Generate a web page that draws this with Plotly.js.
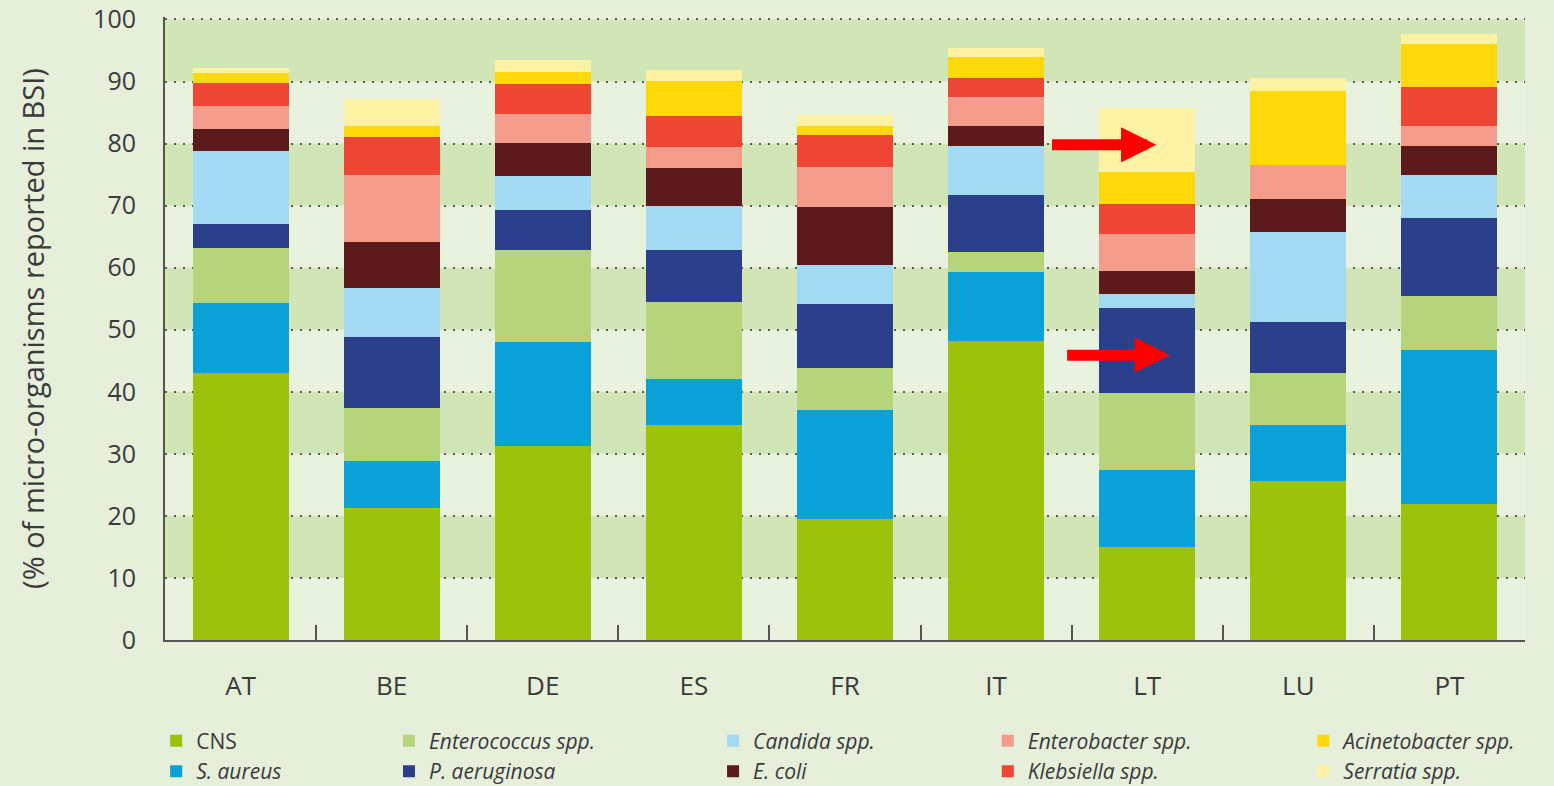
<!DOCTYPE html>
<html>
<head>
<meta charset="utf-8">
<script src="https://cdn.plot.ly/plotly-3.0.1.min.js"></script>
<style>
  html, body { margin: 0; padding: 0; background: #e5efda; }
  #chart { width: 1554px; height: 786px; }
</style>
</head>
<body>
<div id="chart"></div>
<script>
// Countries along the x axis
const countries = ['AT', 'BE', 'DE', 'ES', 'FR', 'IT', 'LT', 'LU', 'PT'];

// Share of micro-organisms reported in BSI (%), stacked bottom to top
const cns           = [43.1, 21.3, 31.2, 34.6, 19.5, 48.2, 15.0, 25.6, 21.9];
const sAureus       = [11.2,  7.5, 16.8,  7.5, 17.5, 11.1, 12.4,  9.1, 24.9];
const enterococcus  = [ 8.9,  8.6, 14.9, 12.4,  6.8,  3.3, 12.4,  8.3,  8.7];
const pAeruginosa   = [ 3.9, 11.4,  6.4,  8.4, 10.4,  9.1, 13.7,  8.2, 12.5];
const candida       = [11.7,  7.9,  5.5,  7.0,  6.2,  7.9,  2.3, 14.6,  7.0];
const eColi         = [ 3.6,  7.4,  5.3,  6.1,  9.4,  3.2,  3.7,  5.3,  4.6];
const enterobacter  = [ 3.7, 10.9,  4.6,  3.5,  6.5,  4.7,  5.9,  5.5,  3.2];
const klebsiella    = [ 3.7,  6.1,  4.9,  5.0,  5.1,  3.0,  4.8,  0.0,  6.3];
const acinetobacter = [ 1.6,  1.8,  1.9,  5.6,  1.5,  3.4,  5.3, 11.9,  7.0];
const serratia      = [ 0.8,  4.3,  2.0,  1.7,  1.7,  1.5, 10.2,  2.1,  1.6];

// Legend labels
const seriesNames = [
  'CNS', '<i>S. aureus</i>', '<i>Enterococcus spp.</i>', '<i>P. aeruginosa</i>',
  '<i>Candida spp.</i>', '<i>E. coli</i>', '<i>Enterobacter spp.</i>',
  '<i>Klebsiella spp.</i>', '<i>Acinetobacter spp.</i>', '<i>Serratia spp.</i>'
];

const yTicks = [0, 10, 20, 30, 40, 50, 60, 70, 80, 90, 100];

const seriesValues = [cns, sAureus, enterococcus, pAeruginosa, candida,
                      eColi, enterobacter, klebsiella, acinetobacter, serratia];
const seriesColors = ['#9cc20b', '#0aa0d8', '#b5d47c', '#2b3f8b', '#a4d9f3',
                      '#5c1a1d', '#f39c8b', '#ee4634', '#fdd80a', '#fdf1a4'];
// Legend column for each series (two entries per column)
const legendIds = ['legend', 'legend', 'legend2', 'legend2', 'legend3',
                   'legend3', 'legend4', 'legend4', 'legend5', 'legend5'];

const traces = seriesValues.map((vals, i) => ({
  type: 'bar',
  x: countries,
  y: vals,
  name: seriesNames[i],
  marker: { color: seriesColors[i], line: { width: 0 } },
  legend: legendIds[i],
  legendgroup: 'g' + i,
  hoverinfo: 'skip'
}));

const textColor = '#3a3a3a';
const baseFont = 'Open Sans, Noto Sans, DejaVu Sans, sans-serif';

function legendAt(x) {
  return {
    x: x, xanchor: 'left', y: -0.1295, yanchor: 'top',
    orientation: 'v', traceorder: 'normal', tracegroupgap: 0,
    bgcolor: 'rgba(0,0,0,0)', borderwidth: 0,
    font: { family: baseFont, size: 21, color: textColor }
  };
}

// Alternating horizontal bands behind the grid
const bandShapes = [10, 30, 50, 70, 90].map(y0 => ({
  type: 'rect', xref: 'paper', yref: 'y', x0: 0, x1: 1, y0: y0, y1: y0 + 10,
  fillcolor: '#d1e5b7', line: { width: 0 }, layer: 'below'
}));

const layout = {
  width: 1554, height: 786,
  margin: { l: 165, r: 29, t: 17, b: 146, autoexpand: false },
  paper_bgcolor: '#e5efda',
  plot_bgcolor: '#e9f2de',
  barmode: 'stack',
  bargap: 0.365,
  showlegend: true,
  legend: legendAt(-0.0065),
  legend2: legendAt(0.1647),
  legend3: legendAt(0.403),
  legend4: legendAt(0.605),
  legend5: legendAt(0.837),
  xaxis: {
    type: 'category',
    tickson: 'boundaries',
    ticks: 'inside', ticklen: 15, tickwidth: 2, tickcolor: '#555',
    showline: true, linecolor: '#555', linewidth: 2,
    showgrid: false, zeroline: false,
    ticklabelstandoff: 22,
    tickfont: { family: baseFont, size: 26, color: textColor },
    fixedrange: true
  },
  yaxis: {
    range: [0, 100.4],
    tickvals: yTicks,
    ticktext: yTicks.map(String),
    ticks: '',
    showline: true, linecolor: '#555', linewidth: 2,
    showgrid: true, gridcolor: '#5a5a5a', gridwidth: 2, griddash: '2px,7px',
    zeroline: false,
    ticklabelstandoff: 22,
    tickfont: { family: baseFont, size: 25, color: textColor },
    title: {
      text: '(% of micro-organisms reported in BSI)',
      font: { family: baseFont, size: 29, color: textColor },
      standoff: 40
    },
    fixedrange: true
  },
  shapes: bandShapes,
  annotations: [
    { x: 6.06, y: 79.8, ax: 5.36, ay: 79.8, xref: 'x', yref: 'y', axref: 'x', ayref: 'y',
      text: '', showarrow: true, arrowhead: 2, arrowsize: 0.64, arrowwidth: 11, arrowcolor: '#ff0000' },
    { x: 6.15, y: 45.9, ax: 5.46, ay: 45.9, xref: 'x', yref: 'y', axref: 'x', ayref: 'y',
      text: '', showarrow: true, arrowhead: 2, arrowsize: 0.64, arrowwidth: 11, arrowcolor: '#ff0000' }
  ]
};

Plotly.newPlot('chart', traces, layout, { displayModeBar: false, staticPlot: true });
</script>
</body>
</html>
